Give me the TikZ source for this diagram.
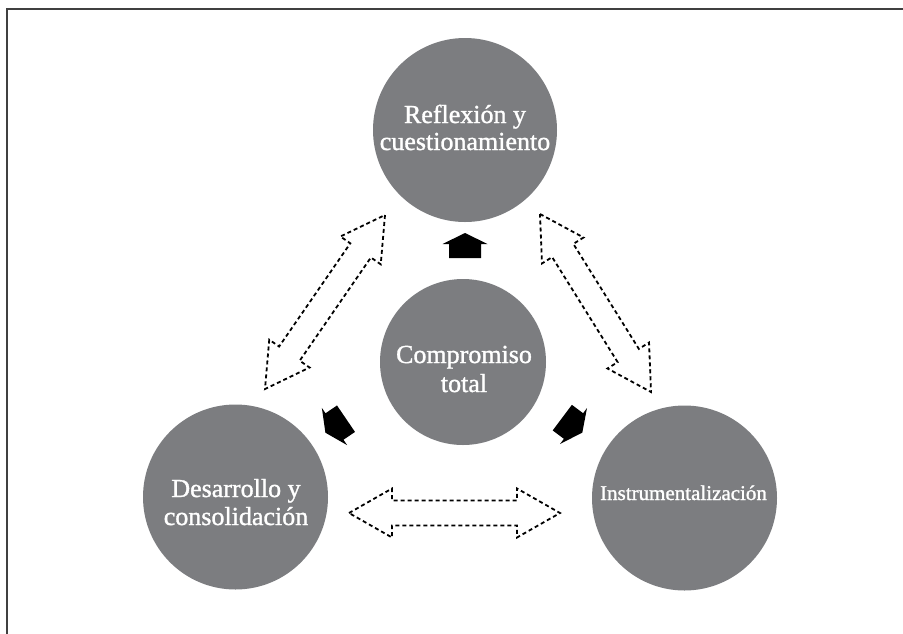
\documentclass[tikz,border=0pt]{standalone}
\usepackage{fontspec}
\setmainfont{Liberation Serif}
\newfontfamily\discfont{Liberation Serif}[FakeBold=1.2]
\usetikzlibrary{calc}
\definecolor{discgray}{RGB}{124,125,128}
\newcommand\dblarrow[3]{%
 \draw[#1] (#2)
  -- ($(#2)!43pt!(#3)!24.5pt!90:(#3)$)
  -- ($(#2)!43pt!(#3)!12.5pt!90:(#3)$)
  -- ($(#3)!43pt!(#2)!12.5pt!-90:(#2)$)
  -- ($(#3)!43pt!(#2)!24.5pt!-90:(#2)$)
  -- (#3)
  -- ($(#3)!43pt!(#2)!24.5pt!90:(#2)$)
  -- ($(#3)!43pt!(#2)!12.5pt!90:(#2)$)
  -- ($(#2)!43pt!(#3)!12.5pt!-90:(#3)$)
  -- ($(#2)!43pt!(#3)!24.5pt!-90:(#3)$)
  -- cycle;}
\newcommand\blockarrow[3]{%
 \fill[#1] (#2)
  -- ($(#2)!11pt!(#3)!22.5pt!90:(#3)$)
  -- ($(#2)!11pt!(#3)!16pt!90:(#3)$)
  -- ($(#3)!16pt!-90:(#2)$)
  -- ($(#3)!16pt!90:(#2)$)
  -- ($(#2)!11pt!(#3)!16pt!-90:(#3)$)
  -- ($(#2)!11pt!(#3)!22.5pt!-90:(#3)$)
  -- cycle;}
\begin{document}
\begin{tikzpicture}[x=1pt,y=-1pt,
  disc/.style={circle,fill=discgray,inner sep=0pt},
  lbl/.style={text=white,anchor=base,inner sep=0pt,font=\discfont\fontsize{26}{29}\selectfont},
  smalllbl/.style={text=white,anchor=base,inner sep=0pt,font=\discfont\fontsize{21}{25}\selectfont},
  dashedarrow/.style={draw=black,line width=1.8pt,dash pattern=on 4pt off 3pt,fill=white},
  solidarrow/.style={fill=black}]
\useasboundingbox (0,0) rectangle (903,633);
\fill[white] (0,0) rectangle (903,633);
\draw[black!75,line width=2pt] (903,9) -- (7,9) -- (7,634);

% circles
\node[disc,minimum size=184pt] (refl) at (465,130) {};
\node[disc,minimum size=166pt] (comp) at (463,362) {};
\node[disc,minimum size=185pt] (desa) at (235.5,497) {};
\node[disc,minimum size=185pt] (inst) at (684.5,498) {};

% texts
\node[lbl] (reflA) at (465,123) {Reflexión y};
\node[lbl] (reflB) at (465,150) {cuestionamiento};
\node[lbl] (compA) at (464,363) {Compromiso};
\node[lbl] (compB) at (464,392) {total};
\node[lbl] (desaA) at (236,497) {Desarrollo y};
\node[lbl] (desaB) at (236,525) {consolidación};
\node[smalllbl] (instA) at (683.5,500) {Instrumentalización};

% dashed double arrows
\coordinate (dlP) at (385,215); \coordinate (dlQ) at (265,389);
\coordinate (drP) at (540,214); \coordinate (drQ) at (651,392);
\coordinate (dhP) at (349,513); \coordinate (dhQ) at (560,513);
\dblarrow{dashedarrow}{dlP}{dlQ}
\dblarrow{dashedarrow}{drP}{drQ}
\dblarrow{dashedarrow}{dhP}{dhQ}

% solid block arrows
\coordinate (btT) at (465,233); \coordinate (btB) at (465,258);
\coordinate (blT) at (325.4,432.7); \coordinate (blB) at (346,418.7);
\coordinate (brT) at (582.3,432.6); \coordinate (brB) at (562.3,417.6);
\blockarrow{solidarrow}{btT}{btB}
\blockarrow{solidarrow}{blT}{blB}
\blockarrow{solidarrow}{brT}{brB}
\end{tikzpicture}
\end{document}
